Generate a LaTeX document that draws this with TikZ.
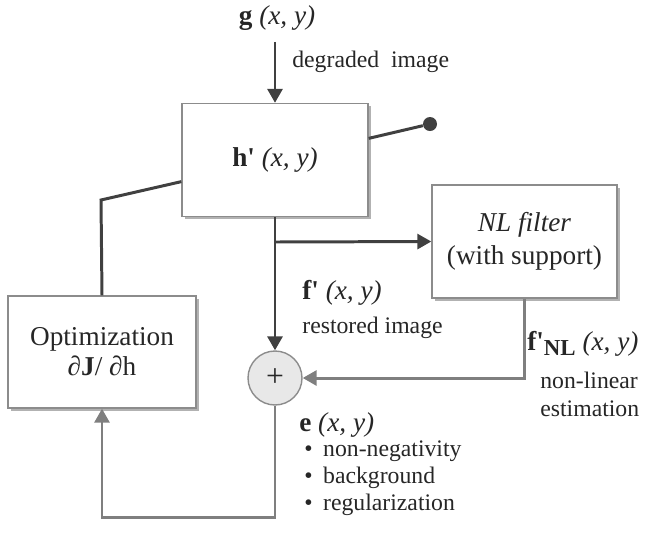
\documentclass[tikz,border=0pt]{standalone}
\usepackage{fontspec}
\setmainfont{Liberation Serif}
\usetikzlibrary{arrows.meta,shadows}
\definecolor{darkln}{HTML}{404040}
\definecolor{greyln}{HTML}{7F7F7F}
\definecolor{boxln}{HTML}{8C8C8C}
\definecolor{txt}{HTML}{262626}
\begin{document}
\begin{tikzpicture}[x=0.02cm,y=-0.02cm,
  blk/.style={draw=boxln,line width=0.8pt,fill=white,align=center,text=txt,
    font=\fontsize{15.5}{19}\selectfont,
    drop shadow={shadow xshift=1.6pt,shadow yshift=-1.6pt,fill=black,opacity=0.3}},
  lbl/.style={anchor=west,inner sep=0,text=txt,font=\fontsize{13.5}{16}\selectfont},
  sig/.style={lbl,font=\fontsize{15.5}{18}\selectfont},
  wire/.style={line width=1.7pt,draw=darkln},
  flow/.style={wire,-{Triangle[length=0.28cm,width=0.3cm]}},
  back/.style={line width=1.7pt,draw=greyln,-{Triangle[length=0.28cm,width=0.3cm]}}]
  \useasboundingbox (0,0) rectangle (646,532);
  % blocks
  \node[blk,minimum width=3.72cm,minimum height=2.26cm] (h) at (275,160)
    {\textbf{h\textquotesingle} \textit{(x, y)}};
  \node[blk,minimum width=3.7cm,minimum height=2.26cm] (nl) at (524.5,241.5)
    {\textit{NL filter}\\(with support)};
  \node[blk,minimum width=3.76cm,minimum height=2.24cm] (opt) at (102,352)
    {Optimization\\[-2pt]∂\textbf{J}/ ∂h};
  \node[circle,draw=boxln,line width=0.8pt,fill=black!9,minimum size=1.08cm,
    inner sep=0,font=\fontsize{18}{18}\selectfont,text=txt] (sum) at (275,378) {+};
  \node[circle,fill=darkln,inner sep=0,minimum size=0.28cm] (dot) at (430,124) {};
  % input
  \node[inner sep=0,text=txt,font=\fontsize{15.5}{18}\selectfont] (g) at (277,18)
    {\textbf{g} \textit{(x, y)}};
  \coordinate (split) at (275,242);
  \coordinate (kink) at (101,200);
  \coordinate (fb) at (275,517);
  % connectors
  \draw[flow] (h.north) ++(0,-61) -- (h.north);
  \draw[wire] (h.13) -- (dot);
  \draw[wire] (h.193) -- (kink) -- (opt.north);
  \draw[flow] (h.south) -- (sum.north);
  \draw[flow] (split) -- (nl.west);
  \draw[back] (nl.south) |- (sum.east);
  \draw[back] (sum.south) -- (fb) -| (opt.south);
  % labels
  \node[lbl] (lg) at (292,62) {degraded\ \ image};
  \node[sig] (lf) at (302,293) {\textbf{f\textquotesingle} \textit{(x, y)}};
  \node[lbl] (lfr) at (302,328) {restored image};
  \node[sig] (lnl) at (527,344)
    {\textbf{f\textquotesingle{\fontsize{13}{13}\selectfont\raisebox{-3pt}{NL}}} \textit{(x, y)}};
  \node[lbl,align=left] (lnle) at (540,394) {non-linear\\estimation};
  \node[sig] (le) at (299,425) {\textbf{e} \textit{(x, y)}};
  \node[lbl,align=left,font=\fontsize{13.5}{15.5}\selectfont] (lc) at (304,478)
    {•\hspace{6pt}non-negativity\\•\hspace{6pt}background\\•\hspace{6pt}regularization};
\end{tikzpicture}
\end{document}
